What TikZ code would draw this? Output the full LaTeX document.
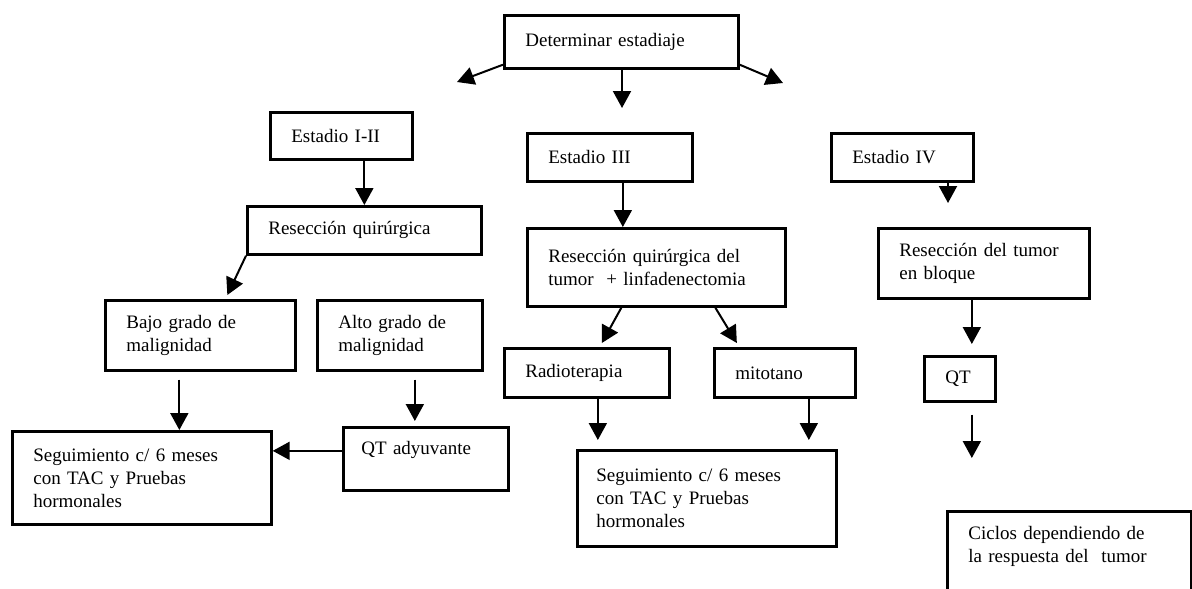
\documentclass[tikz,border=0pt]{standalone}
\usepackage{fontspec}
\setmainfont{Liberation Serif}
\usetikzlibrary{arrows.meta}

\tikzset{
  caja/.style={draw, line width=2.7pt, anchor=north west, align=left,
    inner xsep=21pt, inner ysep=0pt, font=\fontsize{19}{23}\selectfont},
  flecha/.style={line width=2pt, -{Triangle[width=18pt,length=17pt]}}
}

\begin{document}
\begin{tikzpicture}[x=1pt,y=-1pt]
  \useasboundingbox (0,0) rectangle (1192,589);

  % top: staging
  \node[caja, text width=192pt, minimum height=53pt] (det) at (503,14) {Determinar estadiaje};
  \coordinate (izq) at (457,82);
  \coordinate (abajo) at (622,108);
  \coordinate (der) at (783,83);
  \draw[flecha] ([yshift=5pt]det.south west) -- (izq);
  \draw[flecha] (det.south -| abajo) -- (abajo);
  \draw[flecha] ([yshift=5pt]det.south east) -- (der);

  % left: Estadio I-II
  \node[caja, text width=100pt, minimum height=47pt] (e12) at (269,111) {Estadio I-II};
  \node[caja, text width=192pt, minimum height=48pt] (rq) at (246,205) {Resección quirúrgica};
  \node[caja, text width=148pt, minimum height=70pt] (bajo) at (104,299) {Bajo grado de\\malignidad};
  \node[caja, text width=123pt, minimum height=70pt] (alto) at (316,299) {Alto grado de\\malignidad};
  \node[caja, text width=217pt, minimum height=93pt] (seg1) at (11,430) {Seguimiento c/ 6 meses\\con TAC y Pruebas\\hormonales};
  \node[caja, inner xsep=18pt, text width=129pt, text height=27pt, text depth=36pt] (qtad) at (342,426) {QT adyuvante};
  \draw[flecha] (e12.south -| rq.north) -- (rq.north);
  \draw[flecha] (rq.south west) -- ([xshift=27pt,yshift=4pt]bajo.north);
  \draw[flecha, shorten <=8pt] ([xshift=-21pt]bajo.south) -- ([xshift=-21pt]bajo.south |- seg1.north);
  \draw[flecha, shorten <=8pt, shorten >=5pt] ([xshift=15pt]alto.south) -- ([xshift=15pt]alto.south |- qtad.north);
  \draw[flecha] ([yshift=8pt]qtad.west) -- ([yshift=8pt]qtad.west -| seg1.east);

  % middle: Estadio III
  \node[caja, text width=123pt, minimum height=48pt] (e3) at (526,132) {Estadio III};
  \node[caja, text width=216pt, minimum height=78pt] (rql) at (526,227) {Resección quirúrgica del\\tumor~~+ linfadenectomia};
  \node[caja, text width=123pt, minimum height=49pt] (radio) at (503,347) {Radioterapia};
  \node[caja, text width=99pt, minimum height=49pt] (mito) at (713,347) {mitotano};
  \node[caja, inner xsep=19pt, text width=221pt, minimum height=96pt] (seg2) at (576,449) {Seguimiento c/ 6 meses\\con TAC y Pruebas\\hormonales};
  \draw[flecha] ([xshift=13pt]e3.south) -- ([xshift=13pt]e3.south |- rql.north);
  \draw[flecha] ([xshift=-35pt]rql.south) -- ([xshift=15pt,yshift=4pt]radio.north);
  \draw[flecha] ([xshift=59pt]rql.south) -- ([xshift=-48pt,yshift=4pt]mito.north);
  \draw[flecha, shorten >=9pt] ([xshift=11pt]radio.south) -- ([xshift=11pt]radio.south |- seg2.north);
  \draw[flecha, shorten >=9pt] ([xshift=24pt]mito.south) -- ([xshift=24pt]mito.south |- seg2.north);

  % right: Estadio IV
  \node[caja, text width=100pt, minimum height=48pt] (e4) at (830,132) {Estadio IV};
  \node[caja, text width=169pt, minimum height=70pt] (rbl) at (877,227) {Resección del tumor\\en bloque};
  \node[caja, text width=29pt, minimum height=45pt] (qt) at (923,355) {QT};
  \node[caja, text width=202pt, text height=28pt, text depth=72pt] (cic) at (946,510) {Ciclos dependiendo de\\la respuesta del~~tumor};
  \coordinate (pIV) at (948,203);
  \draw[flecha] (e4.south -| pIV) -- (pIV);
  \draw[flecha, shorten >=11pt] ([xshift=12pt]qt.north |- rbl.south) -- ([xshift=12pt]qt.north);
  \draw[flecha, shorten <=12pt, shorten >=52pt] ([xshift=12pt]qt.south) -- ([xshift=12pt]qt.south |- cic.north);
\end{tikzpicture}
\end{document}
